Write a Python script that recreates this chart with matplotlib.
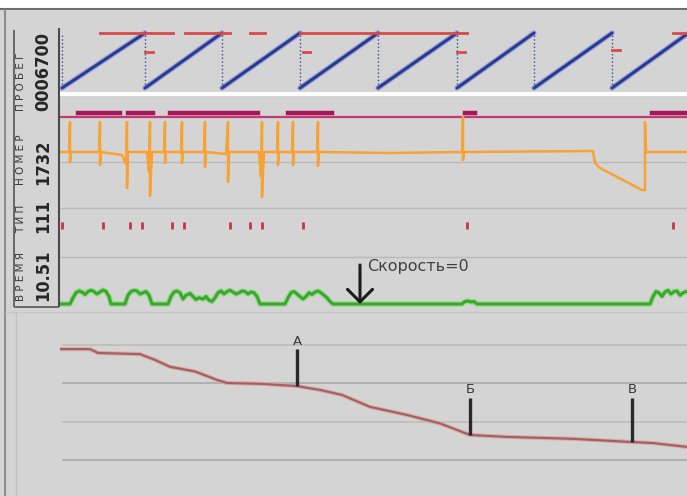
import matplotlib
matplotlib.use("Agg")
import matplotlib.pyplot as plt
from matplotlib import font_manager
import numpy as np

W, H = 687, 496
T_END = 627

# odometer (ПРОБЕГ), 0..100 within each counter turn
odo_resets = [2, 85, 162, 240, 318, 397, 474, 552]
odo_last = 98
red_top = [(40, 113), (125, 170), (190, 205), (240, 407), (613, 627)]
red_mid = [(85, 93, 65), (243, 250, 65), (397, 405, 65), (552, 560, 70)]

# engine on intervals
engine_on = [(18, 60), (68, 93), (110, 198), (228, 272), (405, 415), (592, 627)]

# НОМЕР channel
nomer = [(0, 0), (9, 0), (10, 30), (10, -10), (11, 0), (39, 0), (40, 30), (40, -13), (41, 0),
         (62, -3), (66, -12), (67, 30), (67, -36), (68, 0), (87, 0), (89, -20), (90, 30),
         (90, -44), (92, 0), (104, 0), (105, 30), (105, -11), (106, 0), (121, 0), (122, 30),
         (122, -11), (123, 0), (144, 0), (145, 30), (145, -15), (146, 0), (166, -2), (168, 30),
         (168, -30), (169, 0), (199, 0), (201, -25), (202, 30), (202, -45), (204, 0), (217, 0),
         (218, 30), (218, -13), (219, 0), (232, 0), (233, 30), (233, -13), (234, 0), (257, 0),
         (258, 30), (258, -14), (259, 0), (330, -1), (402, 0), (403, 35), (403, -8), (404, 0),
         (533, 1), (535, -11), (540, -16), (582, -38), (585, -38), (585, 30), (586, 0), (627, 0)]

# ТИП events
type_events = [2, 43, 70, 82, 112, 124, 170, 190, 202, 243, 407, 613]

# speed
speed = [(0, 0), (10, 0), (13, 25), (16, 45), (19, 52), (22, 48), (25, 38), (28, 50), (31, 55),
         (34, 50), (37, 40), (40, 48), (43, 56), (46, 50), (49, 30), (51, 0),
         (65, 0), (68, 35), (71, 50), (74, 55), (77, 52), (80, 40), (83, 45), (86, 50), (89, 35), (92, 0),
         (108, 0), (111, 30), (114, 48), (117, 52), (120, 45), (123, 20), (126, 35), (130, 42),
         (133, 30), (136, 18), (139, 25), (143, 20), (146, 30), (149, 15), (152, 10), (155, 25),
         (158, 45), (161, 52), (164, 40), (167, 50), (170, 55), (173, 48), (176, 40), (179, 45),
         (182, 52), (185, 50), (188, 40), (191, 48), (194, 45), (197, 30), (200, 0),
         (225, 0), (228, 25), (231, 45), (234, 50), (237, 40), (240, 30), (243, 20), (246, 30),
         (249, 45), (252, 38), (255, 48), (258, 52), (261, 45), (264, 35), (267, 25), (270, 10), (273, 0),
         (402, 0), (405, 10), (408, 12), (411, 8), (414, 10), (417, 0),
         (590, 0), (593, 30), (596, 50), (599, 45), (602, 30), (605, 48), (608, 55), (611, 40),
         (614, 50), (617, 52), (620, 35), (623, 45), (627, 50)]
stop_time = 300

# fuel level, litres
fuel = [(0, 48.8), (30, 48.8), (38, 47.8), (80, 47.5), (95, 46.0), (110, 44.2), (135, 43.0),
        (157, 40.8), (167, 40.0), (200, 39.8), (237, 39.2), (260, 38.2), (282, 36.9), (310, 33.8),
        (347, 31.7), (380, 29.5), (410, 26.5), (447, 26.0), (513, 25.5), (570, 24.7), (593, 24.4),
        (627, 23.4)]
marks = ["А", "Б", "В"]
mark_t = [237, 410, 572]
mark_top = [48.8, 36.1, 36.1]
fuel_grid = [50, 40, 30, 20]

# a narrow bold face for the big numbers, if one is installed
num_prop = None
for f in font_manager.fontManager.ttflist:
    narrow = "Narrow" in f.name or "Condensed" in f.name or str(f.stretch) in ("condensed", "semi-condensed")
    if narrow and f.weight in ("bold", 700) and f.style == "normal":
        num_prop = font_manager.FontProperties(fname=f.fname, size=18)
        break
if num_prop is None:
    num_prop = font_manager.FontProperties(family="DejaVu Sans", weight="bold", size=18)

fig = plt.figure(figsize=(W / 100, H / 100), dpi=100, facecolor="#d4d4d4")

bg = fig.add_axes([0, 0, 1, 1])
bg.set_xlim(0, W)
bg.set_ylim(H, 0)
bg.axis("off")
bg.axhspan(0, 8.5, color="white")
bg.axhline(9, color="#6e6e6e", lw=1.5)
bg.vlines(5, 9, H, color="#8e8e8e", lw=1.5)
bg.vlines(14, 30, 307, color="#555555", lw=1.2)
bg.vlines(59, 28, 307, color="#4a4a4a", lw=1.5)
bg.hlines(307, 14, 59, color="#555555", lw=1.2)
bg.hlines(93.5, 60, W, color="white", lw=3)
bg.hlines([162, 208, 257], 60, W, color="#bababa", lw=1)
bg.hlines(312, 5, W, color="#c6c6c6", lw=1)
bg.vlines(16, 312, H, color="#c2c2c2", lw=1)

labels = [("П Р О Б Е Г", "0006700", 111), ("Н О М Е Р", "1732", 185),
          ("Т И П", "111", 233), ("В Р Е М Я", "10.51", 301)]
big_texts = []
for small, big, yb in labels:
    bg.text(21, yb, small, rotation=90, ha="center", va="bottom", fontsize=7.5, color="#3a3a3a")
    big_texts.append(bg.text(43, yb, big, rotation=90, ha="center", va="bottom",
                             fontproperties=num_prop, color="#262626"))

# shrink the numbers so that "0006700" is about 80 px long, as in the screenshot
fig.canvas.draw()
length = big_texts[0].get_window_extent(fig.canvas.get_renderer()).height
for t in big_texts:
    t.set_fontsize(18 * 80 / length)


def panel(top, bottom, px_a, v_a, px_b, v_b):
    ax = fig.add_axes([60 / W, 1 - bottom / H, T_END / W, (bottom - top) / H])
    k = (v_b - v_a) / (px_b - px_a)
    ax.set_ylim(v_a + (bottom - px_a) * k, v_a + (top - px_a) * k)
    ax.set_xlim(0, T_END)
    ax.axis("off")
    return ax


# odometer
ax = panel(26, 92, 88, 0, 33, 100)
ends = odo_resets[1:] + [T_END]
for i, (a, b) in enumerate(zip(odo_resets, ends)):
    top = 100 if i < len(odo_resets) - 1 else odo_last
    ax.plot([a, b], [0, top], color="#9ea8dc", lw=4, solid_capstyle="round")
    ax.plot([a, b], [0, top], color="#2b3a8e", lw=2.2, solid_capstyle="round")
ax.vlines(odo_resets, 0, 100, color="#3c4a98", lw=1, linestyles=":")
for a, b in red_top:
    ax.plot([a, b], [100, 100], color="#d94848", lw=2)
for a, b, v in red_mid:
    ax.plot([a, b], [v, v], color="#d94848", lw=2)

# engine
ax = panel(104, 124, 116.5, 0, 113, 1)
ax.axhline(0, color="#c23a72", lw=1.6)
for a, b in engine_on:
    ax.plot([a, b], [0.9, 0.9], color="#a8155a", lw=3.2)

# НОМЕР
ax = panel(100, 205, 152, 0, 122, 30)
nt, nv = np.array(nomer).T
ax.plot(nt, nv, color="#f7a232", lw=1.8)

# ТИП
ax = panel(214, 236, 229, 0, 222, 1)
ax.vlines(type_events, 0, 1, color="#c8324a", lw=2)

# speed
ax = panel(240, 311, 304, 0, 289, 60)
st, sv = np.array(speed).T
ax.plot(st, sv, color="#9ad88f", lw=4)
ax.plot(st, sv, color="#3aa82c", lw=2.2)
ax.annotate("", xy=(stop_time, 0), xytext=(stop_time, 156),
            arrowprops=dict(arrowstyle="->,head_length=0.9,head_width=0.9", lw=2.2,
                            color="#1c1c1c", shrinkA=0, shrinkB=0))
ax.text(stop_time + 7, 148, "Скорость=0", ha="left", va="center", fontsize=11.5, color="#404040")

# fuel
ax = panel(316, 496, 460, 20, 383, 40)
for g in fuel_grid:
    ax.hlines(g, 2, T_END, color="#a9a9a9" if g in (40, 20) else "#bdbdbd", lw=1.2)
ft, fv = np.array(fuel).T
ax.plot(ft, fv, color="#d4aaaa", lw=3)
ax.plot(ft, fv, color="#a65e5e", lw=1.5)
for name, t, top in zip(marks, mark_t, mark_top):
    base = np.interp(t, ft, fv)
    ax.vlines(t, base, top, color="#2a2a2a", lw=2.4)
    ax.text(t, top + 0.4, name, ha="center", va="bottom", fontsize=9.5, color="#3a3a3a")

fig.savefig("out.png", dpi=100, facecolor=fig.get_facecolor())
